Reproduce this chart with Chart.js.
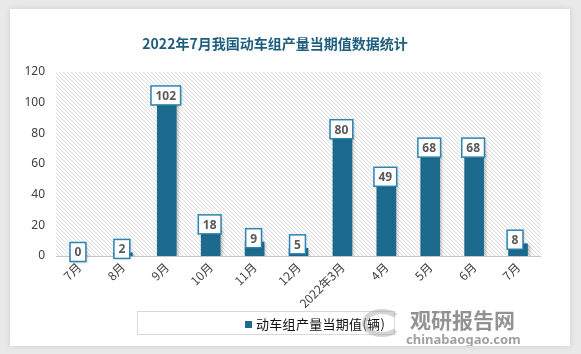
<!DOCTYPE html>
<html>
<head>
<meta charset="utf-8">
<script src="https://cdn.jsdelivr.net/npm/chart.js@4/dist/chart.umd.min.js"></script>
<style>
  body { margin: 0; width: 581px; height: 354px; background: #e9e9e9; position: relative; overflow: hidden; font-family: "Noto Sans CJK SC", sans-serif; }
  #card { position: absolute; left: 10px; top: 9px; width: 560px; height: 337px; background: #fff; box-shadow: 0 0 6px rgba(0,0,0,0.12); overflow: hidden; }
  #chart { position: absolute; left: 0; top: 2px; }
  #legend { position: absolute; left: 127px; top: 302px; width: 258px; height: 24px; border: 1px solid #d9d9d9; box-sizing: border-box; }
  #legend .sw { position: absolute; left: 107px; top: 9px; width: 7px; height: 7px; background: #1c6b8e; }
  #legend .tx { position: absolute; left: 118px; top: 2px; font-size: 13px; color: #111; letter-spacing: 0.3px; white-space: nowrap; }
  #wm1 { position: absolute; left: 400px; top: 295px; font-size: 21px; font-weight: bold; color: rgba(110,110,110,0.75); white-space: nowrap; }
  #wm2 { position: absolute; left: 396px; top: 321px; font-size: 13px; font-weight: bold; color: rgba(120,120,120,0.7); white-space: nowrap; font-family: "Noto Sans", sans-serif; }
  #wmlogo { position: absolute; left: 352px; top: 300px; width: 40px; height: 28px; border-radius: 50%; border: 5px solid rgba(160,160,160,0.45); border-right-color: transparent; box-sizing: border-box; }
</style>
</head>
<body>
<div id="card">
  <canvas id="chart" width="534" height="337"></canvas>
  <div id="legend"><span class="sw"></span><span class="tx">动车组产量当期值(辆)</span></div>
  <div id="wmlogo"></div>
  <div id="wm1">观研报告网</div>
  <div id="wm2">chinabaogao.com</div>
</div>
<script>
const chartTitle = "2022年7月我国动车组产量当期值数据统计";
const seriesName = "动车组产量当期值(辆)";
const months = ["7月", "8月", "9月", "10月", "11月", "12月", "2022年3月", "4月", "5月", "6月", "7月"];
const output = [0, 2, 102, 18, 9, 5, 80, 49, 68, 68, 8];
const yTicks = [0, 20, 40, 60, 80, 100, 120];

const barColor = "#1c6b8e";

function makeHatch() {
  const c = document.createElement("canvas");
  c.width = 4;
  c.height = 4;
  const g = c.getContext("2d");
  g.fillStyle = "#ffffff";
  g.fillRect(0, 0, 4, 4);
  g.fillStyle = "#dadada";
  for (let i = 0; i < 4; i++) g.fillRect(i, i, 1, 1);
  return g.createPattern(c, "repeat");
}

const hatchPlugin = {
  id: "hatch",
  beforeDatasetsDraw(chart) {
    const { ctx, chartArea: a } = chart;
    ctx.save();
    ctx.fillStyle = makeHatch();
    ctx.fillRect(a.left - 1, a.top, a.right - a.left + 2, a.bottom - a.top);
    ctx.restore();
  },
};

const barShadow = {
  id: "barShadow",
  beforeDatasetDraw(chart) {
    const ctx = chart.ctx;
    ctx.save();
    ctx.shadowColor = "rgba(0,0,0,0.25)";
    ctx.shadowBlur = 3;
    ctx.shadowOffsetX = 2;
    ctx.shadowOffsetY = 1;
  },
  afterDatasetDraw(chart) {
    chart.ctx.restore();
  },
};

const valueLabels = {
  id: "valueLabels",
  afterDatasetsDraw(chart) {
    const { ctx } = chart;
    const meta = chart.getDatasetMeta(0);
    ctx.save();
    ctx.font = "bold 12px 'Noto Sans', sans-serif";
    ctx.textAlign = "center";
    ctx.textBaseline = "middle";
    meta.data.forEach((bar, i) => {
      const text = String(output[i]);
      const w = ctx.measureText(text).width + 9;
      const h = 19;
      const cx = bar.x - (i === output.length - 1 ? 3 : 1);
      const cy = bar.y - 4;
      ctx.save();
      ctx.shadowColor = "rgba(0,0,0,0.25)";
      ctx.shadowBlur = 3;
      ctx.shadowOffsetX = 1;
      ctx.shadowOffsetY = 1;
      ctx.fillStyle = "#fff";
      ctx.fillRect(cx - w / 2, cy - h / 2, w, h);
      ctx.restore();
      ctx.strokeStyle = "#2a85b2";
      ctx.lineWidth = 1.5;
      ctx.strokeRect(cx - w / 2, cy - h / 2, w, h);
      ctx.fillStyle = "#595959";
      ctx.fillText(text, cx, cy + 1);
    });
    ctx.restore();
  },
};

new Chart(document.getElementById("chart"), {
  type: "bar",
  data: {
    labels: months,
    datasets: [
      {
        label: seriesName,
        data: output,
        backgroundColor: barColor,
        barThickness: 19,
      },
    ],
  },
  options: {
    responsive: false,
    animation: false,
    layout: { padding: { left: 0, right: 4, top: 0, bottom: 0 } },
    plugins: {
      legend: { display: false },
      tooltip: { enabled: false },
      title: {
        display: true,
        text: chartTitle,
        color: "#1d5d7d",
        font: { size: 14, weight: "bold", family: "'Noto Sans CJK SC', sans-serif" },
        padding: { top: 24, bottom: 20 },
      },
    },
    scales: {
      x: {
        afterFit(scale) {
          scale.height = 92;
        },
        grid: { display: false, drawTicks: false },
        border: { display: true, color: "#8a8a8a", width: 1.5 },
        ticks: {
          color: "#404040",
          minRotation: 45,
          maxRotation: 45,
          padding: 4,
          font: { size: 12, family: "'Noto Sans CJK SC', sans-serif" },
        },
      },
      y: {
        min: 0,
        max: 120,
        afterFit(scale) {
          scale.width = 47;
        },
        afterBuildTicks(scale) {
          scale.ticks = yTicks.map((v) => ({ value: v }));
        },
        grid: { display: false, drawTicks: false },
        border: { display: false },
        ticks: {
          color: "#404040",
          padding: 12,
          font: { size: 12, family: "'Noto Sans', sans-serif" },
        },
      },
    },
  },
  plugins: [hatchPlugin, barShadow, valueLabels],
});
</script>
</body>
</html>
